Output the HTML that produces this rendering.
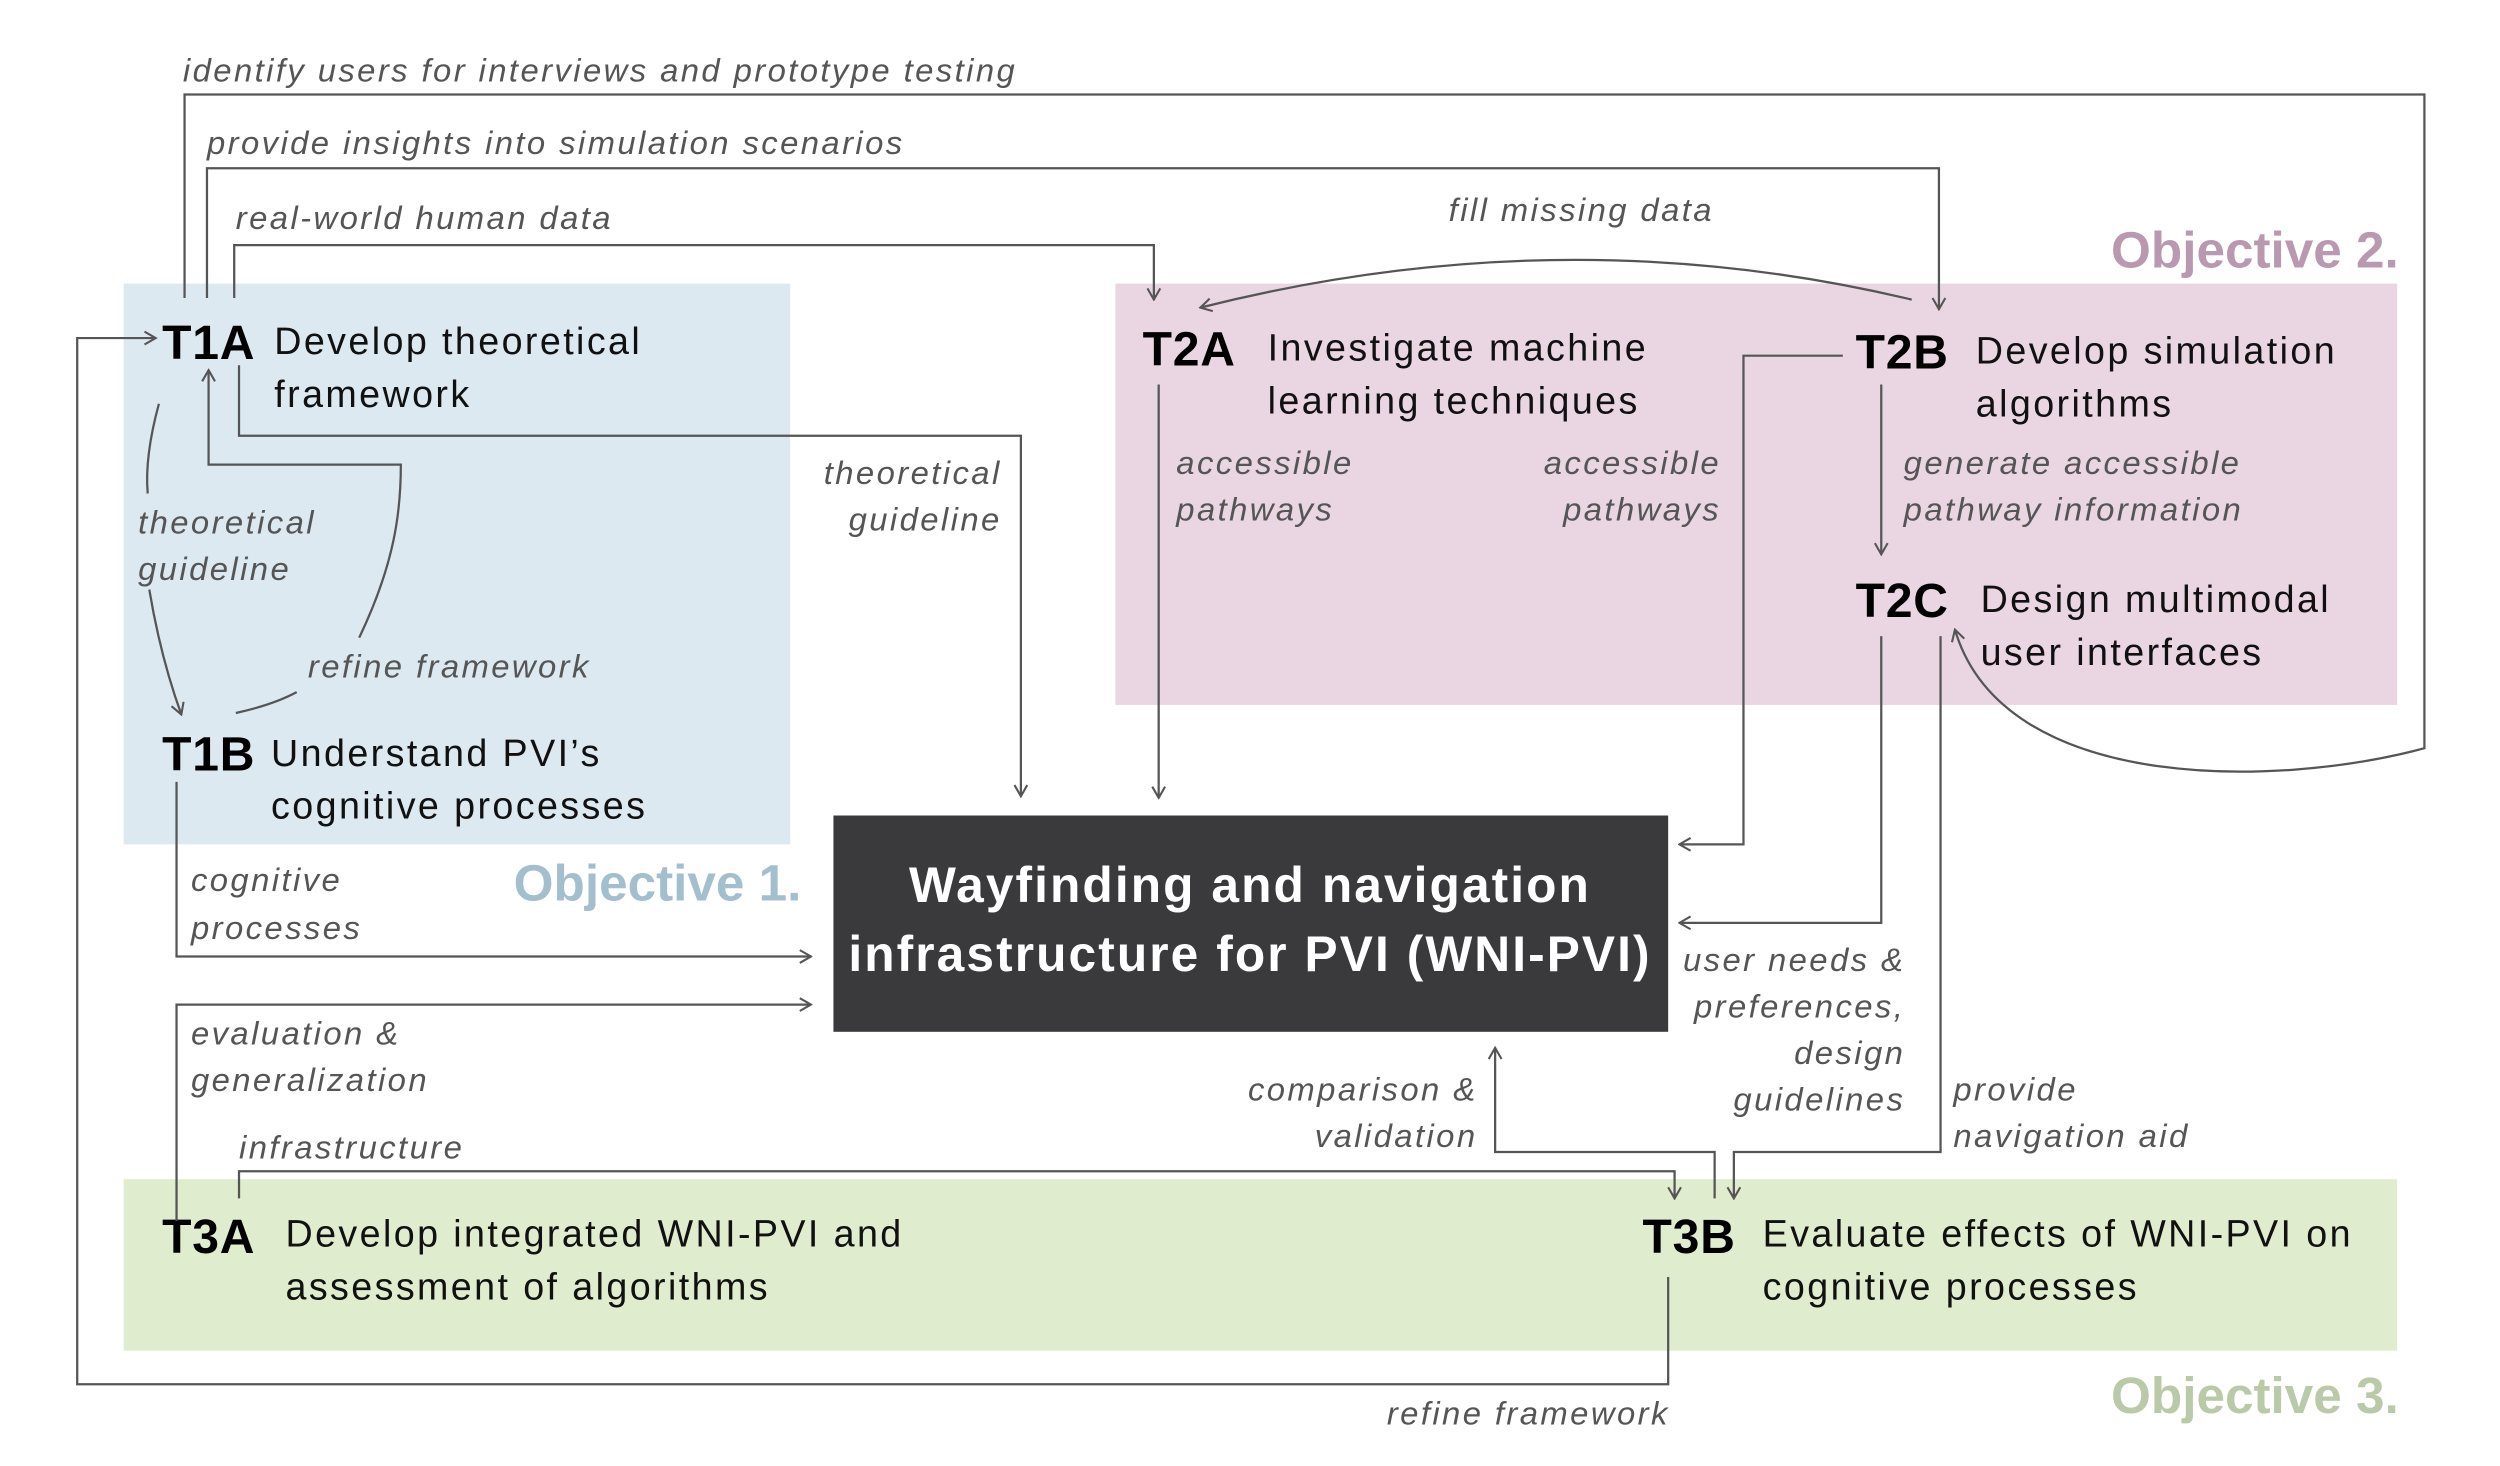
<!DOCTYPE html>
<html><head><meta charset="utf-8"><style>
html,body{margin:0;padding:0;background:#fff;}
svg{display:block;}
text{font-family:"Liberation Sans",sans-serif;}
.t{font-size:23.5px;fill:#111;letter-spacing:1.5px;}
.b{font-size:30px;font-weight:bold;fill:#000;letter-spacing:0.5px;}
.i{font-size:20.5px;font-style:italic;fill:#555;letter-spacing:1.5px;}
.l{fill:none;stroke:#555;stroke-width:1.4;}
</style></head><body>
<svg width="2500" height="1466" viewBox="0 0 1560 915" xmlns="http://www.w3.org/2000/svg">
<defs>
<marker id="a" viewBox="0 0 10 10" refX="9" refY="5" markerWidth="10" markerHeight="10" markerUnits="userSpaceOnUse" orient="auto">
<polyline points="2,1 9,5 2,9" fill="none" stroke="#555" stroke-width="1.3"/>
</marker>
</defs>
<rect x="77" y="177" width="416" height="350" fill="#dce9f1"/>
<rect x="696" y="177" width="800" height="263" fill="#ead6e2"/>
<rect x="77" y="736" width="1419" height="107" fill="#e0ecce"/>
<rect x="520" y="509" width="521" height="135" fill="#3a3a3c"/>
<text x="780" y="563" text-anchor="middle" style="font-size:31px;font-weight:bold;fill:#fff;letter-spacing:1.3px">Wayfinding and navigation</text>
<text x="780" y="606" text-anchor="middle" style="font-size:31px;font-weight:bold;fill:#fff;letter-spacing:1.3px">infrastructure for PVI (WNI-PVI)</text>

<text x="500" y="562" text-anchor="end" style="font-size:32px;font-weight:bold;fill:#a3bfcd">Objective 1.</text>
<text x="1497" y="167" text-anchor="end" style="font-size:32px;font-weight:bold;fill:#b999af">Objective 2.</text>
<text x="1497" y="882" text-anchor="end" style="font-size:32px;font-weight:bold;fill:#bac9a8">Objective 3.</text>

<text class="b" x="101" y="224">T1A</text>
<text class="t" x="171" y="221">Develop theoretical</text>
<text class="t" x="171" y="254">framework</text>
<text class="b" x="101" y="481">T1B</text>
<text class="t" x="169" y="478">Understand PVI’s</text>
<text class="t" x="169" y="511">cognitive processes</text>
<text class="b" x="713" y="228">T2A</text>
<text class="t" x="791" y="225">Investigate machine</text>
<text class="t" x="791" y="258">learning techniques</text>
<text class="b" x="1158" y="230">T2B</text>
<text class="t" x="1233" y="227">Develop simulation</text>
<text class="t" x="1233" y="260">algorithms</text>
<text class="b" x="1158" y="385">T2C</text>
<text class="t" x="1236" y="382">Design multimodal</text>
<text class="t" x="1236" y="415">user interfaces</text>
<text class="b" x="101" y="782">T3A</text>
<text class="t" x="178" y="778">Develop integrated WNI-PVI and</text>
<text class="t" x="178" y="811">assessment of algorithms</text>
<text class="b" x="1025" y="782">T3B</text>
<text class="t" x="1100" y="778">Evaluate effects of WNI-PVI on</text>
<text class="t" x="1100" y="811">cognitive processes</text>

<text class="i" x="114" y="51">identify users for interviews and prototype testing</text>
<text class="i" x="129" y="96">provide insights into simulation scenarios</text>
<text class="i" x="147" y="143">real-world human data</text>
<text class="i" x="904" y="138">fill missing data</text>
<text class="i" x="86" y="333">theoretical</text>
<text class="i" x="86" y="362">guideline</text>
<text class="i" x="192" y="423">refine framework</text>
<text class="i" x="625" y="302" text-anchor="end">theoretical</text>
<text class="i" x="625" y="331" text-anchor="end">guideline</text>
<text class="i" x="734" y="296">accessible</text>
<text class="i" x="734" y="325">pathways</text>
<text class="i" x="1074" y="296" text-anchor="end">accessible</text>
<text class="i" x="1074" y="325" text-anchor="end">pathways</text>
<text class="i" x="1188" y="296">generate accessible</text>
<text class="i" x="1188" y="325">pathway information</text>
<text class="i" x="119" y="556">cognitive</text>
<text class="i" x="119" y="586">processes</text>
<text class="i" x="119" y="652">evaluation &amp;</text>
<text class="i" x="119" y="681">generalization</text>
<text class="i" x="149" y="723">infrastructure</text>
<text class="i" x="922" y="687" text-anchor="end">comparison &amp;</text>
<text class="i" x="922" y="716" text-anchor="end">validation</text>
<text class="i" x="1189" y="606" text-anchor="end">user needs &amp;</text>
<text class="i" x="1189" y="635" text-anchor="end">preferences,</text>
<text class="i" x="1189" y="664" text-anchor="end">design</text>
<text class="i" x="1189" y="693" text-anchor="end">guidelines</text>
<text class="i" x="1219" y="687">provide</text>
<text class="i" x="1219" y="716">navigation aid</text>
<text class="i" x="1042" y="889" text-anchor="end">refine framework</text>

<path class="l" d="M115,186 V59 H1513 V467 C1420,492 1250,495 1220,393" marker-end="url(#a)"/>
<path class="l" d="M129,186 V105 H1210 V193" marker-end="url(#a)"/>
<path class="l" d="M146,186 V153 H720 V187" marker-end="url(#a)"/>
<path class="l" d="M1193,187 Q975,135 749,192" marker-end="url(#a)"/>
<path class="l" d="M149,228 V272 H637 V497" marker-end="url(#a)"/>
<path class="l" d="M723,240 V498" marker-end="url(#a)"/>
<path class="l" d="M1150,222 H1088 V527 H1048" marker-end="url(#a)"/>
<path class="l" d="M1174,240 V346" marker-end="url(#a)"/>
<path class="l" d="M1174,397 V576 H1048" marker-end="url(#a)"/>
<path class="l" d="M1211,397 V719 H1082 V748" marker-end="url(#a)"/>
<path class="l" d="M99,252 Q90,285 92,308"/>
<path class="l" d="M93,368 Q100,410 113,446" marker-end="url(#a)"/>
<path class="l" d="M147,445 Q170,440 185,432"/>
<path class="l" d="M224,398 C246,352 250,320 250,290 H130 V231" marker-end="url(#a)"/>
<path class="l" d="M110,488 V597 H506" marker-end="url(#a)"/>
<path class="l" d="M110,762 V627 H506" marker-end="url(#a)"/>
<path class="l" d="M149,748 V731 H1045 V748" marker-end="url(#a)"/>
<path class="l" d="M1070,748 V719 H933 V654" marker-end="url(#a)"/>
<path class="l" d="M1041,797 V864 H48 V211 H97" marker-end="url(#a)"/>
</svg>
</body></html>
